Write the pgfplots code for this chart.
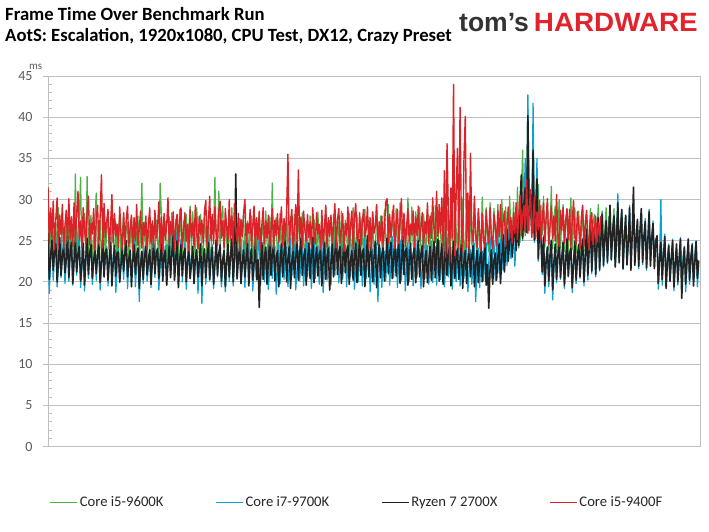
\documentclass[border=0pt]{standalone}
\usepackage{pgfplots}
\pgfplotsset{compat=1.18}
\usepackage{pgfplotstable}
\usepackage{fontspec}
\setmainfont{Carlito}
\newfontfamily\logofont{Liberation Sans}
\definecolor{cgreen}{HTML}{4CB248}
\definecolor{ccyan}{HTML}{0CA0D2}
\definecolor{cblack}{HTML}{222222}
\definecolor{cred}{HTML}{DA2228}
\definecolor{cgrid}{HTML}{BFBFBF}
\definecolor{ctick}{HTML}{595959}
\definecolor{logogray}{HTML}{333333}
\definecolor{logored}{HTML}{E1232B}

% Core i5-9400F
\pgfplotstableread[header=false,row sep=\\]{
31.5\\24.6\\28.9\\25.3\\29.8\\23.9\\27.6\\30.2\\24.4\\28.1\\25.7\\29.4\\24.0\\26.8\\28.7\\24.9\\30.1\\25.2\\27.9\\24.3\\
29.6\\24.8\\28.2\\31.0\\25.1\\27.4\\24.2\\29.0\\26.3\\24.7\\28.5\\30.4\\24.5\\27.1\\25.8\\28.9\\23.8\\27.7\\29.3\\24.6\\
28.0\\33.0\\24.1\\29.5\\25.4\\27.3\\28.8\\24.0\\26.9\\30.6\\24.8\\28.3\\25.5\\27.0\\24.2\\29.1\\25.9\\23.9\\28.4\\24.5\\
27.5\\29.2\\24.3\\26.6\\28.1\\23.7\\27.8\\25.0\\29.4\\24.4\\26.4\\28.6\\24.1\\27.2\\25.6\\28.0\\23.9\\26.7\\29.0\\24.6\\
27.4\\24.2\\28.7\\25.3\\26.5\\29.7\\24.0\\27.9\\23.6\\28.3\\25.1\\26.8\\30.2\\24.4\\27.3\\25.7\\28.5\\23.8\\26.9\\28.2\\
24.5\\27.6\\29.0\\24.1\\26.3\\28.4\\24.9\\27.0\\23.8\\28.8\\25.4\\27.2\\24.3\\29.3\\26.1\\24.0\\28.0\\25.8\\27.5\\24.7\\
28.6\\29.9\\24.2\\27.3\\30.4\\25.0\\28.2\\24.6\\29.1\\26.0\\24.4\\28.7\\29.8\\25.3\\27.4\\24.1\\28.9\\26.6\\24.8\\30.0\\
25.2\\28.0\\24.3\\29.5\\26.4\\24.9\\28.3\\23.8\\27.6\\25.5\\28.4\\30.0\\24.5\\27.1\\25.9\\28.8\\24.2\\26.7\\29.2\\24.0\\
27.8\\25.1\\28.6\\23.9\\26.9\\29.0\\24.6\\27.4\\25.3\\28.1\\24.4\\26.2\\28.9\\24.0\\27.5\\25.6\\28.3\\24.8\\26.8\\29.1\\
24.3\\27.7\\25.0\\28.5\\35.5\\24.4\\27.2\\28.8\\23.8\\26.5\\29.4\\24.7\\33.6\\25.2\\27.9\\24.1\\28.6\\26.3\\24.9\\28.2\\
25.4\\27.3\\24.0\\29.0\\26.1\\24.6\\28.4\\25.8\\27.0\\23.9\\28.7\\24.5\\26.6\\29.3\\24.2\\27.8\\25.5\\28.1\\24.8\\26.9\\
29.5\\24.1\\27.5\\28.9\\24.7\\26.2\\28.3\\23.7\\27.1\\25.6\\29.1\\24.4\\26.7\\28.6\\24.0\\27.7\\29.5\\25.3\\24.8\\28.4\\
24.3\\27.2\\28.8\\25.5\\26.4\\29.1\\24.1\\27.8\\23.8\\28.5\\25.9\\26.8\\29.4\\24.5\\27.3\\25.0\\28.0\\24.2\\26.5\\29.7\\
30.1\\24.7\\28.2\\25.4\\27.6\\29.3\\24.0\\26.9\\28.8\\24.6\\27.4\\30.1\\25.1\\28.3\\24.3\\26.7\\28.9\\24.8\\27.0\\25.7\\
28.6\\24.2\\27.9\\25.6\\29.2\\24.9\\26.5\\28.4\\24.1\\27.3\\25.8\\29.6\\24.6\\28.0\\25.3\\30.2\\26.4\\24.8\\31.0\\25.5\\
29.4\\25.9\\30.2\\24.3\\33.5\\23.0\\36.8\\28.5\\22.5\\31.4\\25.2\\44.0\\23.2\\30.6\\36.2\\24.0\\41.2\\26.8\\23.6\\35.0\\
40.1\\24.2\\30.8\\23.5\\35.6\\26.1\\24.8\\30.4\\25.6\\24.1\\28.9\\26.2\\23.7\\28.3\\25.0\\24.2\\28.7\\26.4\\24.6\\29.0\\
25.3\\24.0\\28.2\\26.8\\24.4\\28.7\\25.5\\29.4\\24.9\\27.3\\28.6\\24.3\\26.9\\29.1\\25.2\\27.8\\24.7\\28.4\\25.9\\29.6\\
25.1\\28.0\\30.5\\25.6\\27.9\\29.3\\26.1\\32.4\\25.9\\28.8\\31.2\\25.4\\27.6\\30.3\\25.2\\28.5\\26.3\\29.9\\25.0\\27.4\\
29.6\\24.8\\27.8\\30.1\\24.5\\26.9\\29.2\\25.3\\28.0\\24.9\\30.6\\25.6\\24.3\\28.7\\26.2\\29.0\\24.7\\27.5\\28.9\\25.1\\
28.8\\24.2\\27.1\\29.9\\25.4\\24.6\\28.5\\26.7\\24.0\\27.9\\29.3\\24.4\\26.8\\28.7\\25.5\\23.9\\27.6\\28.4\\24.5\\26.3\\
28.0\\24.8\\27.2\\25.6\\28.0\\
}\tred

% Core i5-9600K
\pgfplotstableread[header=false,row sep=\\]{
27.8\\22.6\\25.9\\28.4\\23.1\\26.2\\27.2\\22.4\\29.0\\24.1\\22.8\\27.6\\25.3\\22.3\\28.1\\23.7\\26.8\\22.9\\27.3\\24.5\\
23.2\\33.1\\22.9\\26.4\\27.8\\32.7\\22.5\\25.6\\28.3\\23.4\\32.8\\23.0\\26.9\\28.1\\22.2\\25.1\\27.6\\30.8\\22.6\\26.0\\
27.5\\22.8\\25.4\\28.2\\22.1\\26.7\\27.0\\23.5\\22.7\\28.6\\24.9\\23.2\\27.3\\22.4\\26.1\\27.9\\22.0\\25.7\\28.3\\22.6\\
26.5\\27.1\\21.8\\24.8\\28.0\\22.5\\27.6\\22.2\\25.9\\28.0\\21.9\\26.3\\32.0\\22.3\\27.2\\24.6\\21.5\\27.8\\25.0\\21.2\\
27.0\\23.9\\22.0\\27.5\\25.2\\22.4\\32.0\\28.1\\22.0\\26.0\\27.3\\22.6\\24.7\\27.9\\22.1\\28.4\\25.5\\22.8\\27.6\\23.6\\
22.5\\28.8\\25.8\\23.0\\27.4\\24.3\\28.2\\23.4\\26.6\\29.2\\23.6\\28.5\\24.8\\22.9\\29.0\\26.1\\23.2\\28.2\\24.4\\22.7\\
27.7\\25.6\\22.4\\28.1\\24.0\\22.6\\27.4\\26.2\\32.7\\23.4\\25.5\\31.0\\23.8\\28.0\\29.2\\23.6\\27.1\\25.0\\22.9\\28.5\\
24.2\\29.0\\23.2\\26.8\\28.2\\22.7\\25.3\\27.7\\22.4\\26.5\\28.1\\22.6\\25.0\\27.4\\22.2\\26.9\\28.0\\22.8\\24.6\\27.6\\
22.5\\26.3\\28.3\\22.7\\25.8\\27.5\\22.1\\28.6\\24.7\\22.6\\27.9\\23.9\\32.0\\22.9\\26.4\\27.8\\22.3\\25.2\\28.3\\22.7\\
26.7\\27.5\\22.1\\28.6\\24.4\\22.6\\27.9\\25.8\\22.4\\28.2\\23.5\\22.8\\27.7\\26.0\\22.3\\28.4\\24.9\\22.9\\27.3\\25.1\\
22.2\\28.0\\24.6\\22.6\\27.6\\26.2\\22.4\\28.5\\23.8\\22.8\\27.8\\25.4\\22.1\\28.9\\24.2\\22.7\\27.4\\26.3\\22.3\\28.2\\
24.5\\22.9\\27.9\\25.7\\22.5\\28.6\\23.6\\23.0\\27.5\\26.1\\22.4\\28.3\\24.8\\22.8\\29.0\\25.2\\23.1\\28.1\\24.0\\22.6\\
27.7\\26.4\\22.3\\28.8\\24.3\\22.9\\27.5\\25.6\\22.5\\28.4\\23.8\\23.0\\29.2\\26.0\\23.3\\28.0\\24.7\\22.8\\28.7\\25.5\\
23.2\\29.4\\24.9\\23.5\\28.6\\26.3\\23.0\\28.9\\24.4\\23.4\\29.6\\25.8\\23.1\\28.3\\24.6\\22.8\\30.2\\26.5\\23.6\\29.1\\
24.7\\23.3\\28.5\\25.9\\22.9\\29.0\\24.1\\23.2\\28.2\\26.0\\22.6\\28.8\\24.8\\23.0\\28.4\\25.3\\22.7\\29.3\\24.5\\23.1\\
28.6\\26.2\\22.8\\29.8\\24.9\\23.4\\28.9\\25.7\\23.0\\30.1\\24.6\\23.6\\29.5\\26.4\\23.3\\28.7\\25.1\\23.8\\30.0\\24.4\\
23.5\\29.2\\26.0\\23.1\\28.8\\24.7\\23.4\\29.7\\25.5\\23.0\\28.5\\24.3\\23.6\\30.3\\25.8\\23.2\\29.0\\24.9\\23.7\\29.6\\
25.4\\23.3\\28.9\\26.1\\23.5\\29.4\\24.6\\23.1\\30.0\\25.9\\23.6\\29.1\\24.8\\23.4\\30.4\\26.3\\23.8\\29.7\\25.2\\24.0\\
31.5\\26.0\\24.8\\30.2\\36.0\\27.1\\25.6\\29.8\\41.0\\26.2\\30.5\\27.4\\38.0\\25.4\\28.9\\26.8\\31.8\\24.9\\29.3\\25.7\\
30.4\\24.2\\27.6\\29.5\\23.8\\26.4\\31.6\\24.0\\27.9\\29.2\\23.6\\26.1\\30.0\\24.1\\27.3\\29.4\\23.7\\26.6\\28.8\\23.4\\
27.2\\30.2\\23.9\\26.5\\29.0\\23.5\\27.1\\28.6\\23.2\\26.0\\29.1\\23.8\\27.4\\28.4\\23.3\\25.9\\28.9\\22.8\\27.0\\28.2\\
23.6\\26.3\\29.4\\23.0\\27.5\\28.6\\24.1\\26.2\\29.0\\23.4\\27.8\\28.1\\23.7\\26.0\\28.9\\24.2\\27.4\\28.5\\23.5\\26.7\\
28.3\\24.0\\
}\tgreen

% Core i7-9700K
\pgfplotstableread[header=false,row sep=\\]{
25.8\\18.6\\22.9\\24.9\\20.2\\23.4\\25.3\\19.4\\21.8\\24.2\\20.5\\23.0\\25.6\\19.8\\22.4\\24.7\\20.1\\23.7\\25.2\\19.6\\
22.1\\24.4\\20.8\\23.3\\25.9\\19.3\\21.7\\24.6\\18.9\\22.8\\24.1\\20.4\\23.5\\25.0\\19.7\\22.2\\24.5\\20.2\\23.1\\23.8\\
19.0\\21.9\\24.9\\20.6\\23.6\\24.3\\19.5\\22.5\\25.4\\20.0\\23.2\\24.0\\18.7\\21.6\\24.8\\19.9\\22.7\\23.6\\20.3\\23.9\\
24.5\\19.2\\22.3\\23.9\\20.7\\23.0\\25.1\\19.4\\21.9\\24.2\\17.6\\22.6\\23.7\\19.8\\23.3\\24.6\\20.1\\22.0\\23.5\\19.3\\
22.8\\24.8\\20.5\\23.4\\24.1\\19.0\\21.7\\25.3\\20.2\\23.1\\24.4\\19.6\\22.4\\25.7\\20.8\\23.8\\26.5\\20.3\\22.9\\26.0\\
19.5\\22.6\\25.2\\20.0\\23.3\\24.7\\19.1\\21.8\\25.5\\20.4\\23.0\\24.3\\19.8\\22.5\\23.9\\18.6\\21.4\\24.6\\17.4\\22.2\\
24.0\\19.7\\22.8\\25.2\\20.1\\23.5\\24.5\\19.2\\22.1\\25.0\\20.6\\23.6\\24.2\\19.4\\22.3\\23.8\\18.8\\21.9\\24.7\\20.0\\
23.2\\25.1\\19.5\\22.6\\24.4\\20.3\\23.4\\23.6\\19.9\\22.0\\24.9\\19.3\\22.7\\25.4\\20.5\\23.1\\24.1\\18.9\\21.6\\24.8\\
20.2\\23.5\\25.5\\19.6\\22.4\\24.6\\20.0\\23.0\\23.9\\19.1\\21.8\\25.0\\20.4\\23.4\\24.3\\18.5\\21.5\\24.7\\19.8\\22.9\\
25.6\\20.3\\23.2\\24.2\\19.4\\22.0\\25.3\\20.7\\23.6\\24.5\\19.0\\21.7\\23.8\\20.1\\22.8\\24.9\\19.5\\22.3\\25.2\\20.6\\
23.1\\24.0\\19.2\\22.4\\25.7\\20.4\\23.3\\24.4\\19.7\\22.1\\25.1\\18.7\\21.6\\24.6\\20.2\\23.0\\24.3\\19.6\\22.5\\25.4\\
20.8\\23.7\\24.8\\19.9\\22.2\\25.0\\20.3\\23.1\\24.5\\19.4\\22.6\\25.8\\20.6\\23.4\\24.2\\19.1\\21.9\\24.9\\20.0\\23.0\\
24.4\\19.5\\22.3\\25.3\\20.4\\23.2\\24.6\\18.8\\21.5\\23.9\\19.7\\22.4\\24.7\\17.6\\21.8\\24.1\\19.3\\22.7\\23.7\\20.1\\
23.4\\24.8\\19.6\\22.2\\25.5\\20.5\\23.8\\24.0\\19.3\\22.6\\25.1\\20.2\\23.5\\24.4\\18.9\\21.7\\24.8\\20.0\\22.9\\23.6\\
19.5\\22.4\\25.2\\20.6\\23.1\\24.0\\19.2\\21.9\\25.7\\20.4\\23.6\\24.4\\19.7\\22.3\\24.9\\19.9\\22.8\\24.3\\19.6\\23.2\\
25.0\\20.3\\22.7\\24.5\\19.4\\22.1\\25.8\\20.6\\23.4\\24.2\\19.1\\21.8\\24.9\\20.0\\23.0\\24.6\\19.5\\22.5\\25.3\\20.4\\
23.3\\24.6\\18.8\\21.6\\23.9\\19.7\\22.4\\24.7\\17.6\\21.9\\24.1\\19.3\\22.6\\23.7\\20.1\\23.0\\24.8\\19.6\\22.2\\25.5\\
20.5\\23.4\\25.0\\20.1\\23.8\\25.9\\21.0\\24.3\\26.3\\21.4\\24.8\\26.6\\22.0\\25.2\\27.0\\22.8\\25.6\\26.1\\21.9\\24.9\\
27.2\\24.1\\28.4\\32.5\\25.0\\29.1\\35.0\\26.4\\42.7\\27.5\\30.1\\26.2\\41.7\\24.8\\29.4\\35.0\\22.5\\27.8\\25.6\\20.9\\
25.6\\18.6\\22.4\\24.3\\19.4\\22.0\\25.1\\17.8\\21.5\\24.5\\19.9\\22.7\\25.7\\20.3\\23.1\\24.9\\19.2\\22.3\\25.4\\20.6\\
23.5\\24.2\\18.7\\21.8\\25.0\\19.8\\22.6\\24.6\\20.4\\23.2\\25.3\\19.5\\22.9\\26.1\\20.2\\23.8\\27.4\\21.0\\24.5\\26.8\\
20.6\\24.1\\27.9\\21.3\\25.0\\28.4\\21.8\\24.7\\27.6\\22.2\\25.6\\29.0\\22.6\\25.9\\28.1\\21.9\\24.8\\30.7\\22.4\\26.3\\
28.6\\21.5\\25.1\\27.9\\22.0\\24.6\\29.3\\21.7\\25.8\\28.0\\22.3\\24.9\\27.2\\21.6\\26.0\\28.5\\22.1\\25.3\\27.7\\21.4\\
24.7\\28.8\\22.0\\25.5\\27.4\\21.8\\25.2\\25.4\\19.1\\22.8\\30.0\\19.6\\23.4\\25.8\\19.4\\22.5\\24.6\\20.0\\22.9\\25.2\\
18.9\\21.7\\24.1\\19.6\\22.6\\25.4\\20.1\\23.0\\24.3\\18.8\\21.9\\25.1\\19.7\\22.4\\24.7\\20.2\\23.3\\25.0\\19.4\\22.1\\
}\tcyan

% Ryzen 7 2700X
\pgfplotstableread[header=false,row sep=\\]{
25.9\\20.3\\23.1\\25.1\\21.4\\23.8\\24.6\\20.0\\22.5\\25.4\\20.8\\23.2\\24.2\\21.1\\22.9\\25.6\\20.5\\23.6\\24.8\\19.8\\
22.7\\25.0\\21.2\\23.4\\24.3\\20.1\\22.2\\24.7\\19.6\\22.8\\25.3\\20.9\\23.5\\24.5\\20.4\\22.6\\23.9\\21.0\\23.3\\24.6\\
19.9\\22.4\\25.1\\20.6\\23.7\\24.0\\20.2\\22.9\\24.8\\19.5\\22.3\\24.4\\20.7\\23.6\\23.6\\20.0\\22.1\\24.2\\21.3\\23.5\\
25.0\\20.6\\22.8\\23.8\\19.4\\22.5\\24.5\\20.9\\23.3\\24.1\\19.2\\22.0\\23.7\\20.3\\23.0\\24.3\\20.8\\22.7\\23.9\\19.7\\
22.4\\24.7\\21.0\\23.5\\24.0\\20.4\\22.9\\24.6\\20.1\\23.2\\23.8\\19.6\\22.3\\24.4\\20.5\\23.4\\25.6\\20.2\\22.8\\25.0\\
19.3\\22.6\\24.5\\20.7\\23.3\\24.1\\20.0\\22.7\\23.7\\20.4\\22.2\\24.3\\19.8\\22.9\\23.9\\20.6\\22.4\\24.6\\19.5\\22.8\\
24.0\\20.5\\23.1\\24.8\\20.3\\22.6\\24.2\\19.7\\22.3\\25.1\\20.8\\23.4\\24.5\\20.1\\22.7\\23.8\\19.4\\22.5\\24.6\\20.6\\
23.2\\25.2\\20.0\\22.8\\33.1\\20.4\\22.9\\24.3\\19.8\\22.4\\23.9\\20.6\\23.0\\24.6\\19.5\\22.6\\24.0\\20.2\\22.3\\24.8\\
20.3\\22.7\\16.9\\21.8\\24.8\\20.3\\23.1\\24.2\\19.7\\22.5\\25.1\\20.8\\23.4\\24.5\\20.1\\22.9\\23.8\\19.4\\22.2\\24.6\\
20.6\\23.3\\25.2\\20.0\\22.8\\24.3\\19.2\\22.4\\23.7\\20.5\\23.0\\24.9\\20.2\\23.5\\25.3\\20.8\\22.9\\24.0\\19.6\\22.6\\
24.7\\20.4\\23.2\\25.4\\19.9\\22.7\\24.2\\20.7\\23.3\\23.9\\19.5\\22.4\\24.8\\20.3\\23.0\\24.1\\19.0\\22.2\\24.6\\20.6\\
23.4\\25.5\\20.9\\23.6\\24.3\\19.8\\22.5\\25.0\\21.1\\23.7\\24.4\\19.7\\22.6\\23.8\\20.2\\23.1\\24.7\\19.9\\22.8\\25.1\\
20.8\\23.5\\24.0\\19.4\\22.3\\25.6\\20.6\\23.4\\24.3\\20.0\\22.9\\24.9\\19.3\\22.2\\24.5\\20.5\\23.3\\24.2\\20.1\\22.7\\
25.3\\21.0\\23.6\\24.8\\20.4\\22.9\\25.0\\20.7\\23.5\\24.6\\19.8\\22.4\\25.5\\20.9\\23.7\\24.1\\19.6\\22.6\\24.7\\20.3\\
23.2\\24.2\\19.9\\22.8\\25.0\\20.6\\23.4\\24.4\\19.4\\22.3\\23.8\\19.9\\22.5\\24.3\\20.2\\23.1\\24.9\\20.5\\23.6\\25.2\\
20.1\\22.8\\24.6\\19.7\\22.4\\25.0\\20.8\\23.3\\24.4\\19.5\\22.1\\24.9\\20.4\\23.0\\24.0\\20.3\\22.7\\24.5\\19.2\\22.5\\
23.8\\19.8\\22.6\\24.3\\20.6\\23.1\\24.4\\19.4\\22.0\\23.8\\19.9\\22.5\\24.3\\20.0\\22.8\\24.6\\19.6\\22.1\\16.8\\21.5\\
23.9\\19.7\\22.6\\23.5\\20.2\\23.1\\24.6\\19.8\\22.9\\25.7\\21.2\\24.0\\26.4\\22.5\\25.1\\26.9\\23.0\\25.6\\27.3\\23.8\\
27.5\\24.4\\29.8\\33.0\\25.3\\29.5\\31.4\\26.0\\40.2\\28.1\\30.6\\25.9\\36.0\\25.1\\28.8\\32.5\\22.8\\26.6\\25.4\\21.2\\
25.4\\19.5\\22.6\\24.2\\20.1\\23.3\\25.0\\19.0\\22.4\\24.6\\20.3\\23.1\\25.3\\20.5\\22.8\\24.8\\19.6\\22.5\\25.2\\20.7\\
23.4\\24.1\\19.3\\22.2\\24.9\\20.2\\23.0\\24.5\\20.6\\23.5\\25.1\\20.0\\23.2\\26.4\\20.8\\24.0\\27.2\\21.3\\24.6\\26.6\\
20.9\\24.3\\27.8\\21.5\\25.0\\28.2\\22.0\\25.3\\27.4\\22.4\\25.8\\29.3\\22.7\\26.0\\28.0\\21.8\\25.2\\29.6\\22.3\\26.1\\
28.8\\21.6\\25.4\\28.1\\22.1\\24.9\\29.0\\21.4\\25.7\\31.5\\22.0\\25.1\\27.6\\21.9\\26.2\\28.9\\22.4\\25.5\\27.3\\21.7\\
25.0\\28.5\\21.9\\25.3\\27.1\\21.6\\24.8\\25.6\\19.8\\22.7\\24.8\\20.3\\23.1\\25.5\\19.2\\22.4\\24.4\\20.1\\22.9\\25.0\\
19.4\\22.3\\24.6\\20.0\\22.8\\25.2\\18.0\\21.9\\24.2\\19.7\\22.6\\25.2\\20.2\\23.0\\24.5\\19.5\\22.2\\24.9\\20.4\\22.6\\
}\tblack

\begin{document}
\begin{tikzpicture}[x=1pt,y=1pt]
\path[use as bounding box] (0pt,0pt) rectangle (709pt,-531pt);
\node[anchor=base west, inner sep=0, font=\fontsize{18.67}{22}\selectfont\bfseries] at (5pt,-20pt) {Frame Time Over Benchmark Run};
\node[anchor=base west, inner sep=0, font=\fontsize{18.67}{22}\selectfont\bfseries] at (5pt,-41pt) {AotS: Escalation, 1920x1080, CPU Test, DX12, Crazy Preset};
\node[anchor=base west, inner sep=0, font=\logofont\bfseries\fontsize{26.5}{28}\selectfont, text=logogray] at (459pt,-31pt) {tom’s};
\node[anchor=base east, inner sep=0, font=\logofont\bfseries\fontsize{26.5}{28}\selectfont, text=logored] at (698pt,-31pt) {\scalebox{1.05}[1]{HARDWARE}};
\node[anchor=base west, inner sep=0, font=\fontsize{11}{12}\selectfont, text=ctick] at (29pt,-69pt) {ms};
\begin{axis}[
  at={(48pt,-446.5pt)}, anchor=south west,
  scale only axis, width=652pt, height=370.5pt,
  xmin=0, xmax=500, ymin=0, ymax=45,
  axis line style={cgrid, line width=0.9pt},
  xtick=\empty,
  ytick={0,5,...,45},
  ytick pos=left,
  tick align=outside,
  major tick length=5pt,
  tick style={cgrid, line width=0.9pt},
  ymajorgrids,
  grid style={cgrid, line width=0.9pt},
  extra y ticks={1,2,3,4,6,7,8,9,11,12,13,14,16,17,18,19,21,22,23,24,26,27,28,29,31,32,33,34,36,37,38,39,41,42,43,44},
  extra y tick labels={},
  extra y tick style={tick align=inside, major tick length=3.5pt, grid=none},
  yticklabel style={font=\fontsize{14}{16}\selectfont, text=ctick, xshift=-7pt},
  /pgf/number format/assume math mode=true,
  legend columns=4,
  legend cell align=left,
  legend style={draw=none, fill=none, at={(0.474,-0.15)}, anchor=center,
    font=\fontsize{14.67}{17}\selectfont, text=black!85,
    /tikz/every even column/.append style={column sep=50pt}},
  legend image code/.code={\draw[#1, line width=1pt] (0pt,0pt) -- (27pt,0pt);},
  every axis plot/.append style={line width=1.25pt, line join=round},
]
\addplot[cgreen] table[x expr=\coordindex, y index=0] {\tgreen};
\addlegendentry{Core i5-9600K}
\addplot[ccyan] table[x expr=\coordindex, y index=0] {\tcyan};
\addlegendentry{Core i7-9700K}
\addplot[cblack, line width=1.6pt] table[x expr=\coordindex, y index=0] {\tblack};
\addlegendentry{Ryzen 7 2700X}
\addplot[cred, line width=1.4pt] table[x expr=\coordindex, y index=0] {\tred};
\addlegendentry{Core i5-9400F}
\end{axis}
\end{tikzpicture}
\end{document}
